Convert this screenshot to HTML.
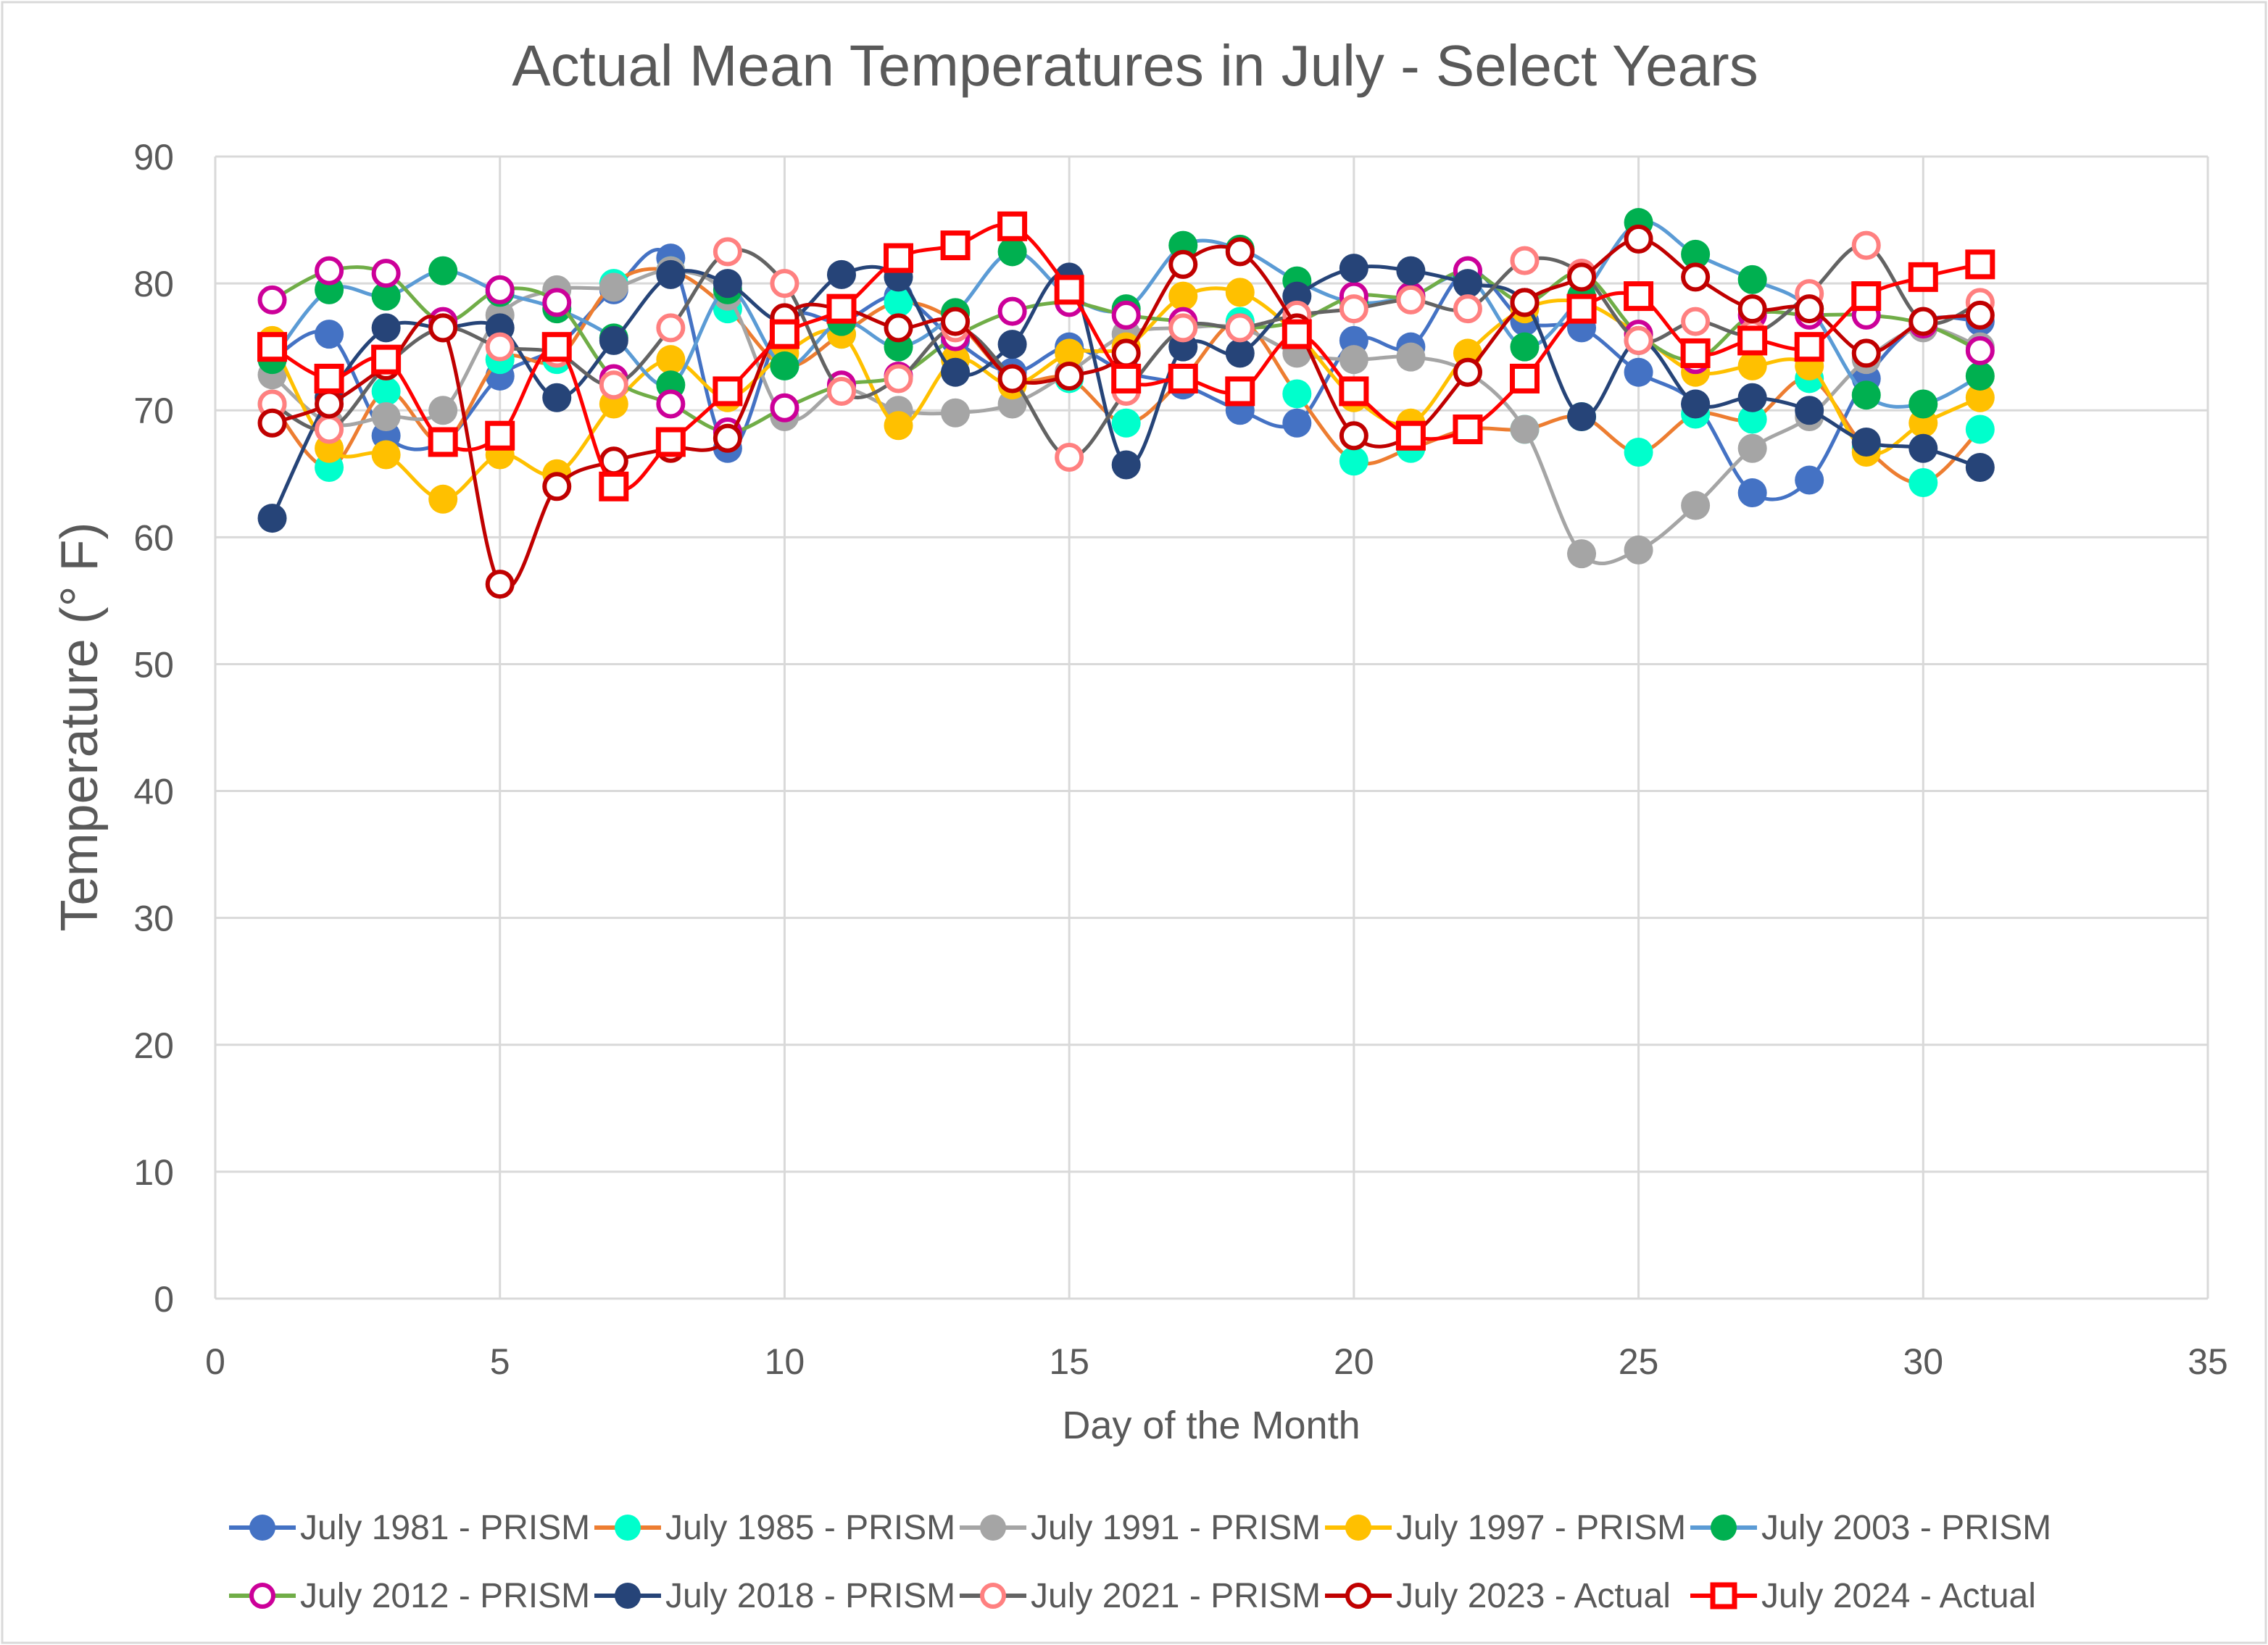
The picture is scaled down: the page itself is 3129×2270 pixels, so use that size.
<!DOCTYPE html>
<html><head><meta charset="utf-8"><style>
html,body{margin:0;padding:0;background:#fff}
svg{display:block;font-family:"Liberation Sans",sans-serif}
</style></head><body>
<svg id="chart" width="3129" height="2270" viewBox="0 0 3129 2270" xmlns="http://www.w3.org/2000/svg">
<rect x="3" y="3" width="3123" height="2264" fill="#fff" stroke="#d9d9d9" stroke-width="3"/>
<text x="1566" y="118" font-size="80" fill="#595959" text-anchor="middle">Actual Mean Temperatures in July - Select Years</text>
<g id="grid"></g><g id="series"></g><g id="axes"></g><g id="legend"></g>
<text transform="translate(134,1003) rotate(-90)" font-size="72" fill="#595959" text-anchor="middle">Temperature (° F)</text>
<text x="1671" y="1985" font-size="54" fill="#595959" text-anchor="middle">Day of the Month</text>
</svg>
<script>
const days=[1,2,3,4,5,6,7,8,9,10,11,12,13,14,15,16,17,18,19,20,21,22,23,24,25,26,27,28,29,30,31];
const yTicks=[0,10,20,30,40,50,60,70,80,90];
const xTicks=[0,5,10,15,20,25,30,35];
const names=["July 1981 - PRISM","July 1985 - PRISM","July 1991 - PRISM","July 1997 - PRISM","July 2003 - PRISM","July 2012 - PRISM","July 2018 - PRISM","July 2021 - PRISM","July 2023 - Actual","July 2024 - Actual"];
const s1981=[74,76,68,67.5,72.7,75,79.5,82,67,77,77,79,75.5,73,75,73,72,70,69,75.5,75,81,77,76.5,73,70.5,63.5,64.5,72.5,77,77];
const s1985=[70.5,65.5,71.5,67.5,74,74,80,81,78,73.5,76,78.5,77,72.5,72.5,69,72.5,77,71.3,66,67,68.5,68.5,69.5,66.7,69.7,69.3,72.5,67,64.3,68.5];
const s1991=[72.8,69,69.5,70,77.5,79.5,79.7,81,79,69.5,71.7,70,69.8,70.5,73,76,76.5,76.5,74.5,74,74.2,73,68.5,58.7,59,62.5,67,69.5,74,76.5,75];
const s1997=[75.5,67,66.5,63,66.5,65,70.5,74,71,74.5,76,68.8,74,72,74.5,75,79,79.3,76,71,69,74.5,78,78.5,76,73,73.5,73.5,66.7,69,71];
const s2003=[74,79.5,79,81,79.3,78,75.7,72,79.5,73.5,77,75,77.7,82.5,79,78,83,82.7,80.2,78.5,79,80.5,75,79,84.8,82.3,80.3,78,71.2,70.5,72.7];
const s2012=[78.7,81,80.8,77,79.5,78.5,72.5,70.5,68.3,70.2,72,72.7,75.8,77.8,78.5,77.5,77,76.5,77,79,79,81,78.5,80.8,76,74,77.5,77.5,77.5,76.8,74.7];
const s2018=[61.5,71,76.5,76.5,76.5,71,75.5,80.7,80,77,80.7,80.5,73,75.2,80.5,65.7,75,74.5,79,81.2,81,80,78.5,69.5,75.5,70.5,71,70,67.5,67,65.5];
const s2021=[70.5,68.5,73.5,76.5,75,74.5,72,76.5,82.5,80,71.5,72.5,76.5,72.5,66.3,71.5,76.5,76.5,77.5,78,78.7,78,81.8,80.8,75.5,77,76,79.2,83,77,78.5];
const s2023=[69,70.5,73.5,76.5,56.3,64,66,67,67.8,77.3,78,76.5,77,72.5,72.7,74.5,81.5,82.5,76.5,68,68,73,78.5,80.5,83.5,80.5,78,78,74.5,77,77.5];
const s2024=[75,72.5,74,67.5,68,75,64,67.5,71.5,76,78,82,83,84.5,79.5,72.5,72.5,71.5,76,71.5,68,68.5,72.5,78,79,74.5,75.5,75,79,80.5,81.5];
const allSeries=[s1981,s1985,s1991,s1997,s2003,s2012,s2018,s2021,s2023,s2024];
const styles=[
{line:"#4472C4",m:"c",fill:"#4472C4",stroke:"#4472C4"},
{line:"#ED7D31",m:"c",fill:"#00FFCC",stroke:"#00FFCC"},
{line:"#A5A5A5",m:"c",fill:"#A5A5A5",stroke:"#A5A5A5"},
{line:"#FFC000",m:"c",fill:"#FFC000",stroke:"#FFC000"},
{line:"#5B9BD5",m:"c",fill:"#00B050",stroke:"#00B050"},
{line:"#70AD47",m:"o",fill:"#fff",stroke:"#CC0099"},
{line:"#264478",m:"c",fill:"#264478",stroke:"#264478"},
{line:"#636363",m:"o",fill:"#fff",stroke:"#FF8080"},
{line:"#C00000",m:"o",fill:"#fff",stroke:"#C00000"},
{line:"#FF0000",m:"s",fill:"#fff",stroke:"#FF0000"}];
const X0=297,X1=3046,Y0=1792,Y1=216;
const xs=v=>X0+(v-0)/35*(X1-X0);
const ys=v=>Y0-(v-0)/90*(Y0-Y1);
const NS="http://www.w3.org/2000/svg";
function mk(t,a,p){const e=document.createElementNS(NS,t);for(const k in a)e.setAttribute(k,a[k]);p.appendChild(e);return e;}
const grid=document.getElementById('grid'),axes=document.getElementById('axes'),ser=document.getElementById('series'),leg=document.getElementById('legend');
yTicks.forEach(t=>{
 const l=mk('line',{x1:X0,x2:X1,y1:ys(t),y2:ys(t),stroke:'#d9d9d9','stroke-width':3},grid);
 
 
 const tx=mk('text',{x:240,y:ys(t)+18,'font-size':50,fill:'#595959','text-anchor':'end'},axes);tx.textContent=t;
 
 
});
xTicks.forEach(t=>{
 const l=mk('line',{x1:xs(t),x2:xs(t),y1:Y1,y2:Y0,stroke:'#d9d9d9','stroke-width':3},grid);
 
 
 const tx=mk('text',{x:xs(t),y:1896,'font-size':50,fill:'#595959','text-anchor':'middle'},axes);tx.textContent=t;
 
 
});
function smooth(pts){let d=`M${pts[0][0]},${pts[0][1]}`;for(let i=0;i<pts.length-1;i++){const p0=pts[Math.max(0,i-1)],p1=pts[i],p2=pts[i+1],p3=pts[Math.min(pts.length-1,i+2)];
 const c1=[p1[0]+(p2[0]-p0[0])/6,p1[1]+(p2[1]-p0[1])/6],c2=[p2[0]-(p3[0]-p1[0])/6,p2[1]-(p3[1]-p1[1])/6];
 d+=` C${c1[0]},${c1[1]} ${c2[0]},${c2[1]} ${p2[0]},${p2[1]}`;}return d;}
function marker(st,x,y,g,r){
 let e;
 if(st.m==='c')e=mk('circle',{cx:x,cy:y,r:r,fill:st.fill},g);
 else if(st.m==='o')e=mk('circle',{cx:x,cy:y,r:r-3,fill:st.fill,stroke:st.stroke,'stroke-width':6},g);
 else e=mk('rect',{x:x-r+3,y:y-r+3,width:2*r-6,height:2*r-6,fill:st.fill,stroke:st.stroke,'stroke-width':7},g);
 return e;}
allSeries.forEach((vals,i)=>{
 const st=styles[i];
 const g=mk('g',{},ser);
 
 
 const pts=vals.map((v,j)=>[xs(days[j]),ys(v)]);
 const p=mk('path',{d:smooth(pts),fill:'none',stroke:st.line,'stroke-width':5},g);
 
 
 pts.forEach(q=>{const m=marker(st,q[0],q[1],g,20);
  
  });
});
const lx=[316,820,1324,1828,2332],ly=[2108,2202];
names.forEach((n,i)=>{
 const st=styles[i];const x=lx[i%5],y=ly[Math.floor(i/5)];
 const g=mk('g',{},leg);
 
 
 mk('line',{x1:x,x2:x+92,y1:y,y2:y,stroke:st.line,'stroke-width':6},g);
 marker(st,x+46,y,g,18);
 const t=mk('text',{x:x+98,y:y+16,'font-size':48,fill:'#595959'},g);t.textContent=n;
});
</script>
</body></html>
